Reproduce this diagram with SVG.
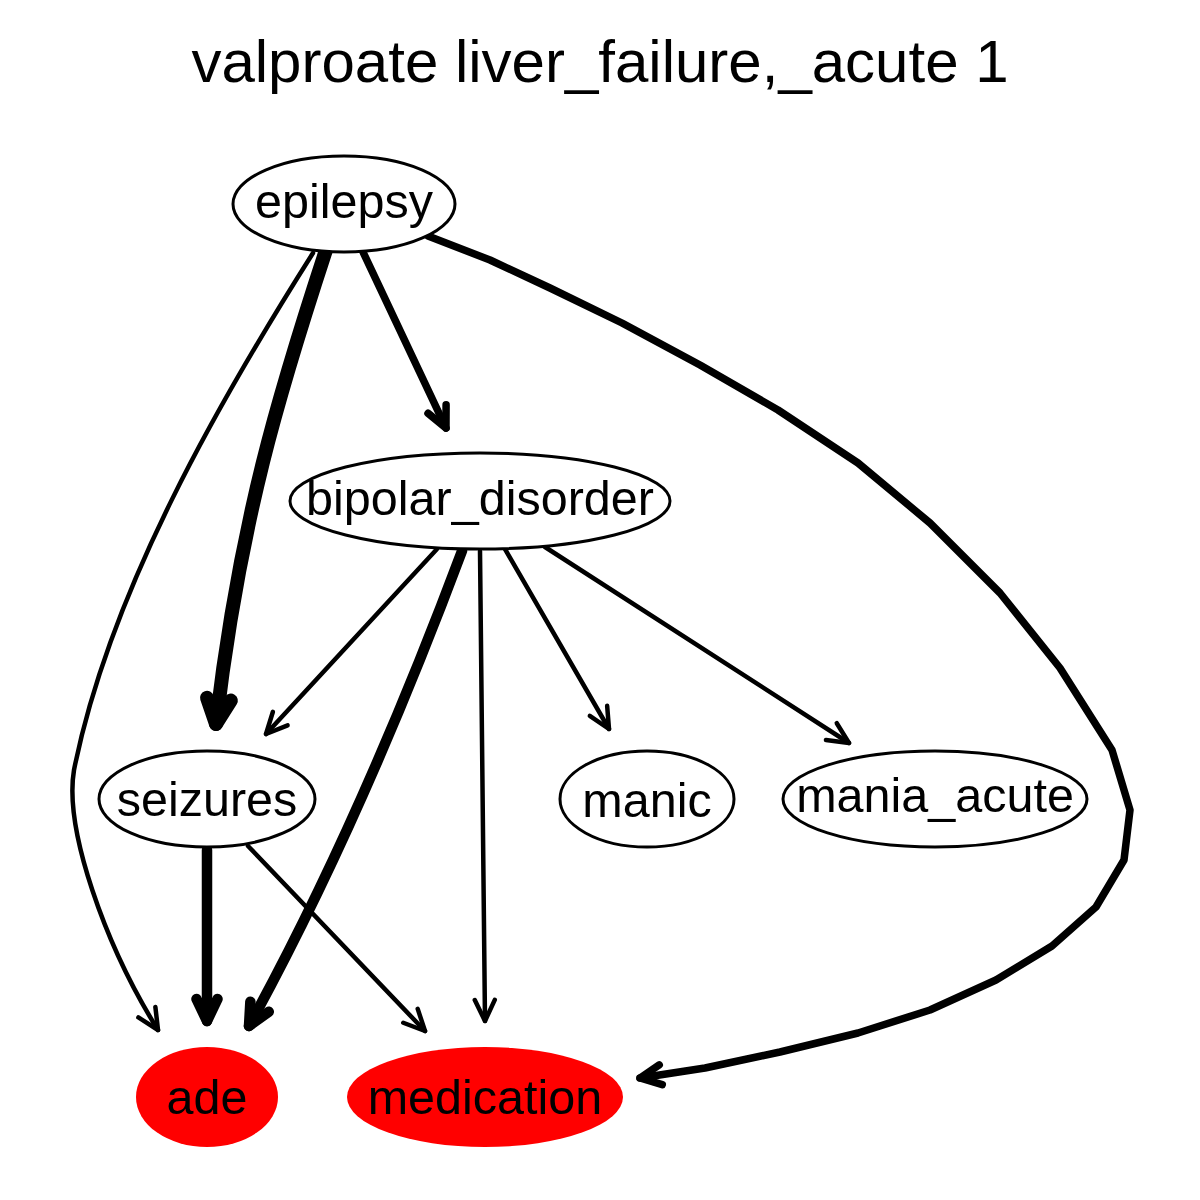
<svg xmlns="http://www.w3.org/2000/svg" width="1200" height="1200" viewBox="0 0 1200 1200">
  <style>
    .title { font-family: "Liberation Sans", Arial, sans-serif; font-size: 60px; fill: #000; text-anchor: middle; }
    .label { font-family: "Liberation Sans", Arial, sans-serif; font-size: 48.5px; fill: #000; text-anchor: middle; }
    .node { fill: #fff; stroke: #000; stroke-width: 3; }
    .hit { fill: #ff0000; stroke: none; }
    .edge { fill: none; stroke: #000; stroke-linecap: round; stroke-linejoin: round; }
    .w4 { stroke-width: 4.5; marker-end: url(#arrow4); }
    .w7 { stroke-width: 7.5; marker-end: url(#arrow7); }
    .w10 { stroke-width: 10.5; marker-end: url(#arrow10); }
    .w14 { stroke-width: 14; marker-end: url(#arrow14); }
    .head { fill: none; stroke: #000; stroke-linecap: round; stroke-linejoin: round; }
  </style>
  <defs>
    <marker id="arrow4" markerUnits="userSpaceOnUse" viewBox="-40 -30 50 60" refX="0" refY="0" markerWidth="50" markerHeight="60" orient="auto" overflow="visible">
      <path class="head" stroke-width="4.5" d="M-21,-10 L0,0 L-21,10"/>
    </marker>
    <marker id="arrow7" markerUnits="userSpaceOnUse" viewBox="-40 -30 50 60" refX="0" refY="0" markerWidth="50" markerHeight="60" orient="auto" overflow="visible">
      <path class="head" stroke-width="7.5" d="M-21,-10 L0,0 L-21,10"/>
    </marker>
    <marker id="arrow10" markerUnits="userSpaceOnUse" viewBox="-40 -30 50 60" refX="0" refY="0" markerWidth="50" markerHeight="60" orient="auto" overflow="visible">
      <path class="head" stroke-width="10.5" d="M-22,-10.5 L0,0 L-22,10.5"/>
    </marker>
    <marker id="arrow14" markerUnits="userSpaceOnUse" viewBox="-40 -30 50 60" refX="0" refY="0" markerWidth="50" markerHeight="60" orient="auto" overflow="visible">
      <path class="head" stroke-width="14" d="M-25,-12 L0,0 L-25,12"/>
    </marker>
  </defs>

  <rect width="1200" height="1200" fill="#fff"/>

  <text class="title" x="600" y="82">valproate liver_failure,_acute 1</text>

  <g id="edges">
    <path id="e-epilepsy-seizures" class="edge w14" d="M326,250 C280,390 240,520 216,724"/>
    <path id="e-epilepsy-ade" class="edge w4" d="M313,253 C220,400 110,590 74,770 C64,829 105,945 158,1030"/>
    <path id="e-epilepsy-bipolar" class="edge w7" d="M363,252 L446,428"/>
    <path id="e-epilepsy-medication" class="edge w7" d="M428,236 L490,260 L550,288 L622,323 L700,365 L778,410 L858,463 L930,523 L1000,593 L1060,668 L1112,750 L1130,810 L1124,860 L1096,907 L1052,946 L996,980 L930,1010 L858,1033 L780,1052 L705,1068 L640,1078"/>
    <path id="e-bipolar-seizures" class="edge w4" d="M437,549 L266,734"/>
    <path id="e-bipolar-ade" class="edge w10" d="M462,551 C410,690 340,860 249,1026"/>
    <path id="e-bipolar-medication" class="edge w4" d="M480,551 L485,1021"/>
    <path id="e-bipolar-manic" class="edge w4" d="M505,549 L609,729"/>
    <path id="e-bipolar-mania_acute" class="edge w4" d="M545,547 L849,743"/>
    <path id="e-seizures-ade" class="edge w10" d="M207,850 L207,1021"/>
    <path id="e-seizures-medication" class="edge w4" d="M248,846 L425,1031"/>
  </g>

  <g id="n-epilepsy">
    <ellipse class="node" cx="344" cy="204" rx="111" ry="48"/>
    <text class="label" x="344" y="218">epilepsy</text>
  </g>
  <g id="n-bipolar_disorder">
    <ellipse class="node" cx="480" cy="501" rx="190" ry="48"/>
    <text class="label" x="480" y="515">bipolar_disorder</text>
  </g>
  <g id="n-seizures">
    <ellipse class="node" cx="207" cy="799" rx="108" ry="48"/>
    <text class="label" x="207" y="816">seizures</text>
  </g>
  <g id="n-manic">
    <ellipse class="node" cx="647" cy="799" rx="87" ry="48"/>
    <text class="label" x="647" y="817">manic</text>
  </g>
  <g id="n-mania_acute">
    <ellipse class="node" cx="935" cy="799" rx="152" ry="48"/>
    <text class="label" x="935" y="812">mania_acute</text>
  </g>
  <g id="n-ade">
    <ellipse class="hit" cx="207" cy="1097" rx="71" ry="50"/>
    <text class="label" x="207" y="1114">ade</text>
  </g>
  <g id="n-medication">
    <ellipse class="hit" cx="485" cy="1097" rx="138" ry="50"/>
    <text class="label" x="485" y="1114">medication</text>
  </g>
</svg>
